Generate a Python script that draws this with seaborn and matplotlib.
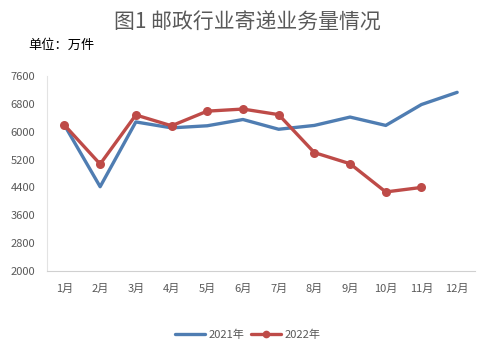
import matplotlib
matplotlib.use('Agg')
import matplotlib.pyplot as plt
import seaborn as sns
import pandas as pd
from matplotlib.ticker import FixedLocator

months = ['1月', '2月', '3月', '4月', '5月', '6月', '7月', '8月', '9月', '10月', '11月', '12月']
y2021 = [6190, 4420, 6280, 6110, 6170, 6350, 6070, 6180, 6420, 6180, 6780, 7130]
y2022 = [6190, 5070, 6480, 6170, 6590, 6650, 6490, 5400, 5080, 4270, 4400]
yticks = [2000, 2800, 3600, 4400, 5200, 6000, 6800, 7600]

df21 = pd.DataFrame({'month': months, 'value': y2021})
df22 = pd.DataFrame({'month': months[:len(y2022)], 'value': y2022})

sns.set_style('white')
plt.rcParams['font.family'] = ['Noto Sans CJK SC', 'DejaVu Sans']

blue = '#4F7DB2'
red = '#BE4B48'

fig = plt.figure(figsize=(4.95, 3.55), dpi=100)
ax = fig.add_axes([0.0941, 0.2366, 0.8655, 0.5494])

sns.lineplot(data=df21, x='month', y='value', color=blue, linewidth=2.4, ax=ax, label='2021年')
sns.lineplot(data=df22, x='month', y='value', color=red, linewidth=2.4, marker='o',
             markersize=6.5, markeredgewidth=0, ax=ax, label='2022年')

ax.set_xlim(-0.5, 11.5)
ax.set_ylim(2000, 7600)
ax.set_yticks(yticks)
ax.set_yticklabels([str(v) for v in yticks])
ax.set_xticks(range(len(months)))
ax.set_xticklabels(months)
ax.xaxis.set_minor_locator(FixedLocator([i - 0.5 for i in range(len(months) + 1)]))
ax.set_xlabel('')
ax.set_ylabel('')

for s in ['top', 'right']:
    ax.spines[s].set_visible(False)
ax.spines['left'].set_color('#E3E3E3')
ax.spines['bottom'].set_color('#D0D0D0')
ax.spines['left'].set_linewidth(0.8)
ax.spines['bottom'].set_linewidth(0.8)

ax.tick_params(axis='x', which='major', length=0, labelsize=8, colors='#595959', pad=9)
ax.tick_params(axis='x', which='minor', direction='in', length=5, color='#D0D0D0', width=0.8)
ax.tick_params(axis='y', which='major', direction='in', length=4, color='#E3E3E3', width=0.8,
               labelsize=8, labelcolor='#595959', pad=8)

fig.text(0.499, 0.937, '图1 邮政行业寄递业务量情况', ha='center', va='center',
         fontsize=15, color='#595959')
fig.text(0.057, 0.873, '单位：万件', ha='left', va='center', fontsize=9.5, color='#000000')

ax.legend(loc='center', bbox_to_anchor=(0.5, 0.056), bbox_transform=fig.transFigure,
          ncol=2, frameon=False, fontsize=8, handlelength=2.7, handletextpad=0.3,
          columnspacing=0.6, labelcolor='#595959', markerscale=0.85)

fig.savefig('out.png', dpi=100)
